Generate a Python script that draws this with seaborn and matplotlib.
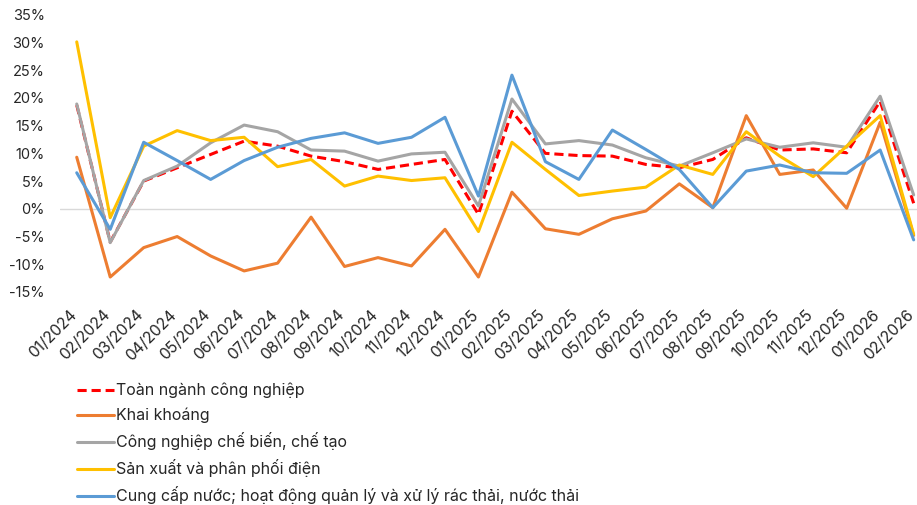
import numpy as np
import pandas as pd
import seaborn as sns
import matplotlib
matplotlib.use("Agg")
import matplotlib.pyplot as plt
import matplotlib.transforms as mtrans
from matplotlib.ticker import FuncFormatter

months = ["01/2024", "02/2024", "03/2024", "04/2024", "05/2024", "06/2024",
          "07/2024", "08/2024", "09/2024", "10/2024", "11/2024", "12/2024",
          "01/2025", "02/2025", "03/2025", "04/2025", "05/2025", "06/2025",
          "07/2025", "08/2025", "09/2025", "10/2025", "11/2025", "12/2025",
          "01/2026", "02/2026"]

toan_nganh = [18.7, -6.0, 5.0, 7.4, 9.8, 12.2, 11.3, 9.5, 8.5, 7.1, 8.0, 8.9,
              -1.0, 17.6, 10.0, 9.6, 9.5, 8.0, 7.4, 8.9, 12.8, 10.6, 10.8, 10.1,
              19.4, 1.0]
khai_khoang = [9.3, -12.3, -7.0, -5.0, -8.5, -11.2, -9.8, -1.5, -10.4, -8.8, -10.3, -3.7,
               -12.3, 3.0, -3.6, -4.6, -1.8, -0.4, 4.5, 0.2, 16.8, 6.2, 7.0, 0.1,
               15.6, -4.8]
che_bien = [18.9, -6.1, 5.1, 7.7, 11.9, 15.1, 13.9, 10.6, 10.4, 8.6, 9.9, 10.2,
            0.5, 19.8, 11.7, 12.3, 11.5, 9.2, 7.7, 10.1, 12.6, 11.1, 11.9, 11.1,
            20.3, 2.5]
dien = [30.1, -1.6, 11.3, 14.1, 12.3, 12.9, 7.6, 8.9, 4.1, 5.9, 5.1, 5.6,
        -4.1, 12.0, 7.1, 2.4, 3.2, 3.9, 7.9, 6.2, 13.9, 9.5, 5.8, 11.3,
        16.8, -4.6]
nuoc = [6.5, -3.7, 12.0, 8.7, 5.3, 8.7, 11.1, 12.7, 13.7, 11.8, 12.9, 16.5,
        2.3, 24.1, 8.5, 5.3, 14.2, 10.7, 7.1, 0.2, 6.8, 7.9, 6.5, 6.4,
        10.6, -5.6]

series_names = ["Toàn ngành công nghiệp", "Khai khoáng", "Công nghiệp chế biến, chế tạo",
                "Sản xuất và phân phối điện",
                "Cung cấp nước; hoạt động quản lý và xử lý rác thải, nước thải"]
series_values = [toan_nganh, khai_khoang, che_bien, dien, nuoc]
colors = ["#FF0000", "#ED7D31", "#A5A5A5", "#FFC000", "#5B9BD5"]

sns.set_theme(style="white")
plt.rcParams["font.family"] = ["Inter", "DejaVu Sans"]
text_color = "#262626"

fig = plt.figure(figsize=(9.17, 5.05), dpi=100)
W, H = 917, 505
left, right, top, bottom = 60, 917, 14.7, 292
ax = fig.add_axes([left / W, 1 - bottom / H, (right - left) / W, (bottom - top) / H])

x = np.arange(len(months))
for name, vals, c in zip(series_names, series_values, colors):
    df = pd.DataFrame({"x": x, "y": np.array(vals) / 100.0})
    sns.lineplot(data=df, x="x", y="y", ax=ax, color=c, linewidth=2.2, label=name)
    if name == series_names[0]:
        ax.lines[-1].set_dashes((3, 1.6))

ax.axhline(0, color="#D9D9D9", linewidth=1.0, zorder=0)
ax.set_xlim(-0.5, 25.1)
ax.set_ylim(-0.15, 0.35)
ax.set_yticks(np.arange(-0.15, 0.351, 0.05))
ax.yaxis.set_major_formatter(FuncFormatter(lambda v, p: f"{round(v*100):d}%"))
ax.set_xticks(x)
ax.set_xticklabels(months, rotation=45, ha="right", rotation_mode="anchor")
ax.tick_params(axis="y", length=0, labelsize=10.5, colors=text_color, pad=11)
ax.tick_params(axis="x", length=0, labelsize=11.3, colors=text_color, pad=11)
shift = mtrans.ScaledTranslation(-8 / 100, 0, fig.dpi_scale_trans)
for lab in ax.get_xticklabels():
    lab.set_transform(lab.get_transform() + shift)
ax.set_xlabel("")
ax.set_ylabel("")
for s in ax.spines.values():
    s.set_visible(False)
ax.grid(False)

handles, labels = ax.get_legend_handles_labels()
ax.get_legend().remove()
fig.legend(handles, labels, loc="upper left", bbox_to_anchor=(77 / W, 1 - 383 / H),
           frameon=False, fontsize=11.5, handlelength=2.3, handletextpad=0.15,
           labelspacing=0.57, borderaxespad=0, borderpad=0, labelcolor=text_color)

fig.savefig("out.png", dpi=100, facecolor="white")
